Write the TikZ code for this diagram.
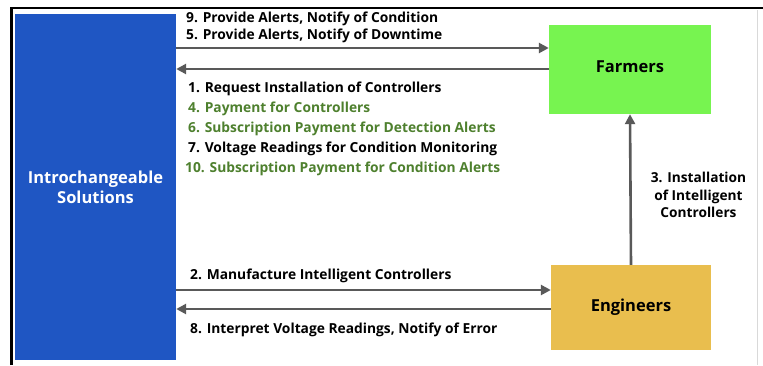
\documentclass[tikz,border=0pt]{standalone}
\usepackage{fontspec}
\setmainfont{Open Sans}
\usetikzlibrary{arrows.meta,calc}
\definecolor{solblue}{RGB}{31,86,195}
\definecolor{farmgreen}{RGB}{119,244,80}
\definecolor{enggold}{RGB}{233,190,78}
\definecolor{arrgray}{RGB}{89,89,89}
\definecolor{txtgreen}{RGB}{78,128,46}
\tikzset{
  boxstyle/.style={inner sep=0pt, align=center, font=\bfseries\fontsize{16.5}{20}\selectfont},
  arr/.style={draw=arrgray, line width=2.6pt, -{Triangle[length=10pt,width=10pt]}},
  lbl/.style={anchor=west, inner sep=0pt, font=\bfseries\fontsize{13.8}{16}\selectfont},
  glbl/.style={lbl, text=txtgreen},
}
\begin{document}
\begin{tikzpicture}[x=1pt,y=1pt]
\useasboundingbox (0,0) rectangle (763,-365);
\fill[white] (0,0) rectangle (763,-365);
% frame
\draw[line width=2.5pt, black] (11.5,-365) -- (11.5,-8) -- (763,-8);
\draw[line width=1pt, black!15] (757,-10) -- (757,-365);
% boxes
\node[boxstyle, fill=solblue, text=white, minimum width=161pt, minimum height=346pt] (sol) at (95.5,-187) {Introchangeable\\Solutions};
\node[boxstyle, fill=farmgreen, minimum width=162pt, minimum height=89pt] (far) at (630,-69.5) {\raisebox{5pt}{Farmers}};
\node[boxstyle, fill=enggold, minimum width=160pt, minimum height=85pt] (eng) at (631,-307.5) {Engineers};
% coordinates for arrow heights
\coordinate (y5) at (0,-48);
\coordinate (y1) at (0,-69);
\coordinate (y2) at (0,-290);
\coordinate (y8) at (0,-309);
% arrows
\draw[arr] (sol.east |- y5) -- (far.west |- y5);
\draw[arr] (far.west |- y1) -- (sol.east |- y1);
\draw[arr] (sol.east |- y2) -- (eng.west |- y2);
\draw[arr] (eng.west |- y8) -- (sol.east |- y8);
\draw[arr] (eng.north) -- (far.south);
% labels
\node[lbl] (l9) at (186,-19) {9. Provide Alerts, Notify of Condition};
\node[lbl] (l5) at (186,-36) {5. Provide Alerts, Notify of Downtime};
\node[lbl] (l1) at (188,-89) {1. Request Installation of Controllers};
\node[glbl] (l4) at (188,-109) {4. Payment for Controllers};
\node[glbl] (l6) at (188,-129) {6. Subscription Payment for Detection Alerts};
\node[lbl] (l7) at (188,-149) {7. Voltage Readings for Condition Monitoring};
\node[glbl] (l10) at (185,-169) {10. Subscription Payment for Condition Alerts};
\node[lbl] (l2) at (190,-275.5) {2. Manufacture Intelligent Controllers};
\node[lbl] (l8) at (190,-330) {8. Interpret Voltage Readings, Notify of Error};
\node[lbl, anchor=center, align=center, font=\bfseries\fontsize{13.7}{17.5}\selectfont] (l3) at (698.5,-195) {3. Installation\\of Intelligent\\Controllers};
\end{tikzpicture}
\end{document}
